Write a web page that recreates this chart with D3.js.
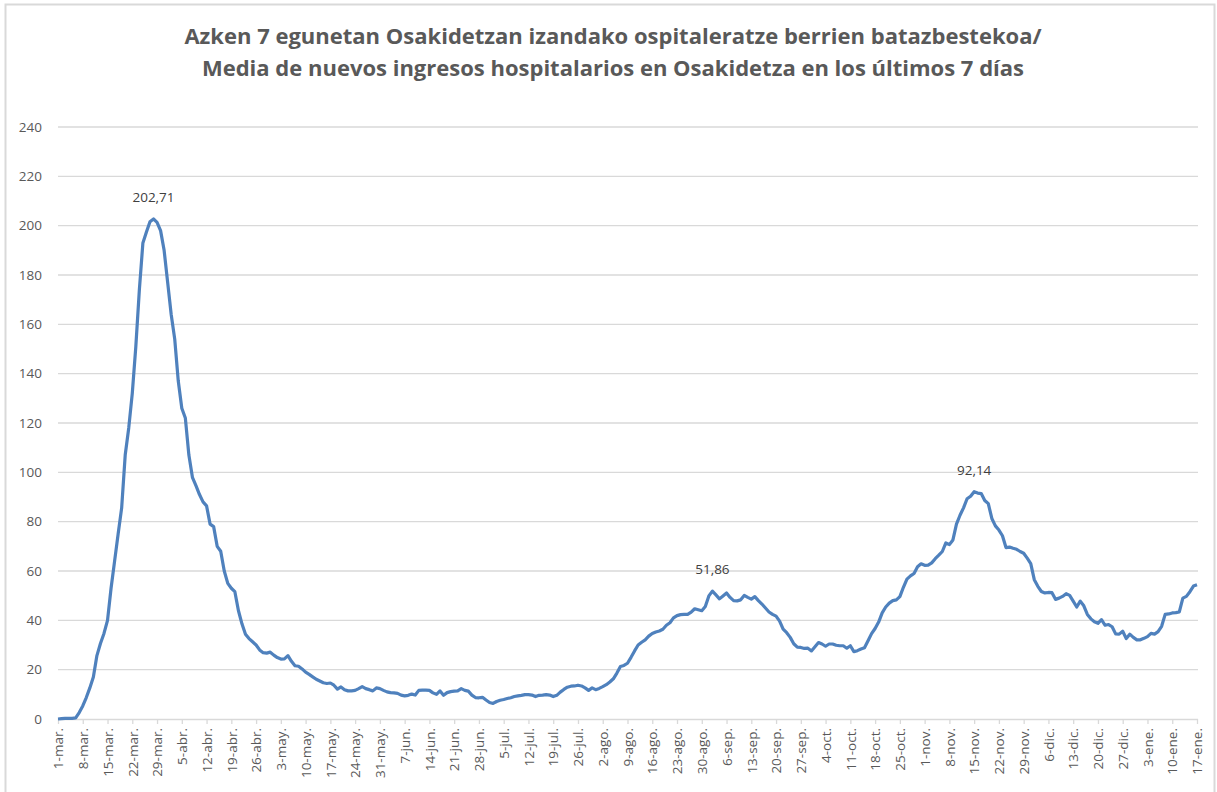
<!DOCTYPE html>
<html>
<head>
<meta charset="utf-8">
<script src="https://cdn.jsdelivr.net/npm/d3@7"></script>
<style>
  body { margin: 0; background: #fff; }
  svg text { font-family: "Open Sans", "Noto Sans", sans-serif; }
</style>
</head>
<body>
<div id="chart"></div>
<script>
// Title lines
const titleLines = [
  "Azken 7 egunetan Osakidetzan izandako ospitaleratze berrien batazbestekoa/",
  "Media de nuevos ingresos hospitalarios en Osakidetza en los últimos 7 días"
];

// Daily 7-day mean of new admissions, 1-mar-2020 .. 17-ene-2021
const values = [
  0, 0.14, 0.29, 0.29, 0.29, 0.43, 2.6, 5.3, 8.7, 12.6,
  17, 25.7, 30.6, 34.7, 40, 53, 64, 75, 85.6, 107,
  118, 132, 151, 174, 193, 197.4, 201.6, 202.71, 201.3, 198,
  190, 177, 164, 154, 137, 126, 122, 107, 98, 94.6,
  91, 88, 86.4, 79, 78, 70, 68, 60, 55, 53,
  51.6, 44, 38.6, 34.4, 32.6, 31.3, 30, 28, 26.9, 26.7,
  27.1, 25.9, 24.9, 24.3, 24.4, 25.7, 23.4, 21.6, 21.4, 20.3,
  19, 18.1, 17.1, 16.1, 15.4, 14.7, 14.4, 14.6, 13.7, 12.1,
  13, 11.9, 11.4, 11.4, 11.6, 12.3, 13.1, 12.3, 11.9, 11.4,
  12.6, 12.3, 11.6, 11, 10.7, 10.6, 10.4, 9.7, 9.4, 9.6,
  10.1, 9.7, 11.6, 11.7, 11.7, 11.6, 10.6, 10, 11.4, 9.6,
  10.7, 11.1, 11.3, 11.4, 12.3, 11.6, 11.3, 9.7, 8.7, 8.6,
  8.8, 7.7, 6.7, 6.3, 7.1, 7.6, 7.9, 8.3, 8.6, 9.1,
  9.4, 9.6, 9.9, 9.9, 9.7, 9.1, 9.6, 9.7, 9.9, 9.7,
  9.1, 9.6, 10.9, 12, 12.9, 13.3, 13.4, 13.7, 13.4, 12.6,
  11.6, 12.6, 11.9, 12.4, 13.1, 13.9, 15, 16.3, 18.6, 21.3,
  21.7, 22.6, 25, 27.6, 30, 31.1, 32.1, 33.6, 34.7, 35.3,
  35.7, 36.4, 38, 39, 41, 41.9, 42.3, 42.4, 42.4, 43.3,
  44.7, 44.3, 43.9, 45.6, 49.9, 51.86, 50.3, 48.7, 49.9, 51.1,
  49.3, 48, 47.9, 48.3, 50.1, 49.3, 48.6, 49.6, 48, 46.6,
  45, 43.4, 42.4, 41.7, 39.7, 36.4, 35, 33.1, 30.5, 29.1,
  29, 28.6, 28.7, 27.6, 29.3, 31, 30.4, 29.5, 30.4, 30.4,
  29.9, 29.7, 29.7, 28.7, 29.7, 27.3, 27.7, 28.4, 28.9, 31.7,
  34.6, 36.7, 39.3, 43, 45.4, 47, 48, 48.3, 49.6, 53.4,
  56.7, 58, 59, 61.7, 62.9, 62.3, 62.4, 63.3, 65, 66.4,
  67.9, 71.4, 70.7, 72.6, 79, 82.6, 85.6, 89.3, 90.3, 92.14,
  91.6, 91.4, 88.6, 87.3, 81.3, 78.3, 76.6, 74.3, 69.5, 69.7,
  69.2, 68.8, 67.9, 67.2, 65.2, 63, 56.5, 53.8, 51.7, 51.1,
  51.3, 51.2, 48.5, 49, 49.7, 50.8, 50.1, 47.8, 45.4, 47.8,
  45.9, 42.4, 40.6, 39.4, 38.8, 40.3, 38, 38.3, 37.4, 34.5,
  34.4, 35.6, 32.6, 34.4, 33.1, 32.1, 32.1, 32.7, 33.4, 34.7,
  34.4, 35.4, 37.6, 42.4, 42.6, 43, 43.1, 43.4, 49, 49.7,
  51.6, 53.9, 54.4
];

// Weekly x-axis labels
const tickLabels = [
  "1-mar.", "8-mar.", "15-mar.", "22-mar.", "29-mar.", "5-abr.", "12-abr.", "19-abr.",
  "26-abr.", "3-may.", "10-may.", "17-may.", "24-may.", "31-may.", "7-jun.", "14-jun.",
  "21-jun.", "28-jun.", "5-jul.", "12-jul.", "19-jul.", "26-jul.", "2-ago.", "9-ago.",
  "16-ago.", "23-ago.", "30-ago.", "6-sep.", "13-sep.", "20-sep.", "27-sep.", "4-oct.",
  "11-oct.", "18-oct.", "25-oct.", "1-nov.", "8-nov.", "15-nov.", "22-nov.", "29-nov.",
  "6-dic.", "13-dic.", "20-dic.", "27-dic.", "3-ene.", "10-ene.", "17-ene."
];

const yTicks = [0, 20, 40, 60, 80, 100, 120, 140, 160, 180, 200, 220, 240];

// Points that carry a data label
const labelled = [27, 185, 259];

const W = 1217, H = 792;

const svg = d3.select("#chart").append("svg")
  .attr("width", W)
  .attr("height", H);

// chart border
svg.append("rect")
  .attr("x", 5.5).attr("y", 4.5)
  .attr("width", 1209).attr("height", 800)
  .attr("fill", "none")
  .attr("stroke", "#d9d9d9")
  .attr("stroke-width", 2);

const x = d3.scaleLinear()
  .domain([0, values.length - 1])
  .range([58, 1197]);

const y = d3.scaleLinear()
  .domain([0, 240])
  .range([719, 127]);

// title
const title = svg.append("text")
  .attr("text-anchor", "middle")
  .attr("fill", "#595959")
  .style("font-weight", "bold")
  .style("font-size", "22px");
titleLines.forEach((t, i) => {
  title.append("tspan")
    .attr("x", 613)
    .attr("y", 44 + i * 32)
    .text(t);
});

// gridlines
svg.append("g")
  .selectAll("line")
  .data(yTicks.filter(d => d > 0))
  .join("line")
  .attr("x1", 58).attr("x2", 1198)
  .attr("y1", d => y(d)).attr("y2", d => y(d))
  .attr("stroke", "#d9d9d9")
  .attr("stroke-width", 1.3);

// y axis labels
const yAxis = svg.append("g")
  .attr("transform", "translate(58,0)")
  .call(d3.axisLeft(y).tickValues(yTicks).tickSize(0).tickPadding(16));
yAxis.select(".domain").remove();
yAxis.selectAll("text")
  .attr("fill", "#595959")
  .style("font-size", "13.5px");

// x axis
const xAxis = svg.append("g")
  .attr("transform", "translate(0,719)")
  .call(d3.axisBottom(x)
    .tickValues(d3.range(0, values.length, 7))
    .tickFormat((d, i) => tickLabels[i])
    .tickSizeOuter(0)
    .tickSize(5));
xAxis.select(".domain")
  .attr("stroke", "#d9d9d9")
  .attr("stroke-width", 1.3)
  .attr("d", "M58,0.5H1198");
xAxis.selectAll(".tick line").attr("stroke", "#d9d9d9").attr("stroke-width", 1.3);
xAxis.selectAll("text")
  .attr("fill", "#595959")
  .style("font-size", "13.5px")
  .attr("text-anchor", "end")
  .attr("transform", "rotate(-90)")
  .attr("x", -9)
  .attr("y", 0)
  .attr("dy", "0.35em");

// line
const line = d3.line()
  .x((d, i) => x(i))
  .y(d => y(d))
  .curve(d3.curveLinear);

svg.append("path")
  .datum(values)
  .attr("fill", "none")
  .attr("stroke", "#4f81bd")
  .attr("stroke-width", 3.2)
  .attr("stroke-linejoin", "round")
  .attr("d", line);

// data labels
svg.append("g")
  .selectAll("text")
  .data(labelled)
  .join("text")
  .attr("x", d => x(d))
  .attr("y", d => y(values[d]) - 17)
  .attr("text-anchor", "middle")
  .attr("fill", "#404040")
  .style("font-size", "13.5px")
  .text(d => String(values[d]).replace(".", ","));
</script>
</body>
</html>
